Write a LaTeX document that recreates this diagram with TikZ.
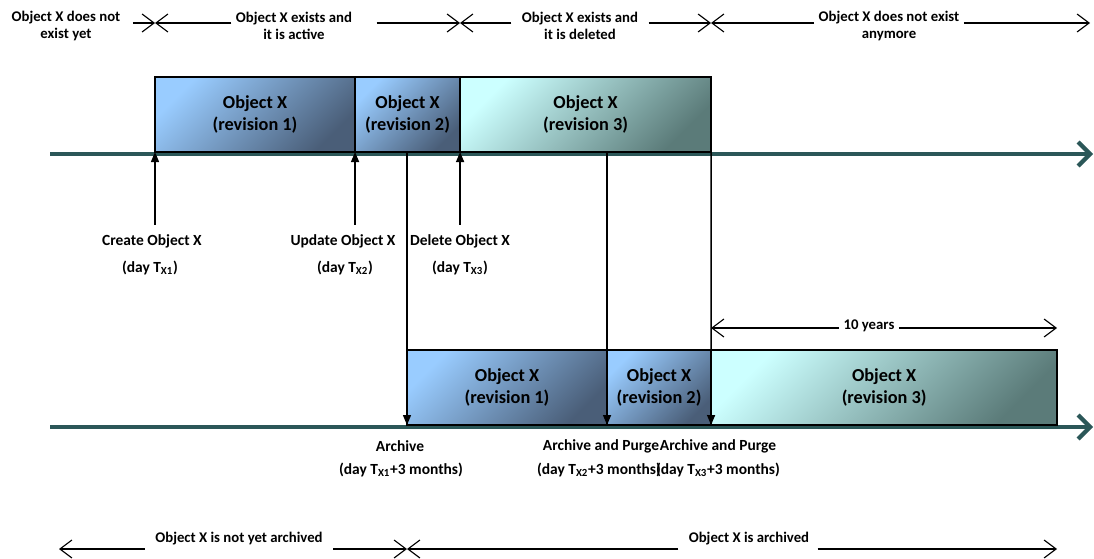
\documentclass[tikz,border=0pt]{standalone}
\usepackage{fontspec}
\setmainfont{Carlito}
\usetikzlibrary{positioning,arrows.meta}

\definecolor{axisteal}{HTML}{2B5758}
\definecolor{revlight}{HTML}{99CCFF}
\definecolor{revdark}{HTML}{4A5E78}
\definecolor{dellight}{HTML}{CCFFFF}
\definecolor{deldark}{HTML}{5B7B79}

\tikzset{
	revbox/.style={draw=black, line width=1pt, minimum height=1.875cm, inner sep=0pt, outer sep=0pt, align=center,
		font=\fontsize{13}{16}\selectfont\bfseries, top color=revlight, bottom color=revdark, shading angle=45},
	delbox/.style={revbox, top color=dellight, bottom color=deldark, shading angle=45},
	timeaxis/.style={line width=3pt, draw=axisteal, -{Straight Barb[length=3mm,width=6mm]}},
	phase/.style={font=\fontsize{10.5}{12}\selectfont\bfseries, align=center, inner xsep=3pt},
	evlabel/.style={font=\fontsize{11}{13}\selectfont\bfseries, inner sep=1pt},
	spanline/.style={line width=0.8pt, -{Straight Barb[length=3mm,width=4.5mm]}},
	evarrow/.style={line width=1pt, -{Triangle[length=2.5mm,width=2mm]}}
}

\begin{document}
\begin{tikzpicture}[x=0.025cm,y=-0.025cm]
	\useasboundingbox (0,0) rectangle (1094,559);

	\coordinate (topstart)	at (50,154);
	\coordinate (topend)	at (1093,154);
	\coordinate (botstart)	at (50,427);
	\coordinate (botend)	at (1093,427);
	\draw[timeaxis] (topstart) -- (topend);
	\draw[timeaxis] (botstart) -- (botend);

	\node[revbox, minimum width=5cm, anchor=south west]	(top1) at (155,152)	{Object X\\(revision 1)};
	\node[revbox, minimum width=2.625cm, right=0pt of top1]	(top2)	{Object X\\(revision 2)};
	\node[delbox, minimum width=6.275cm, right=0pt of top2]	(top3)	{Object X\\(revision 3)};

	\node[revbox, minimum width=5cm, anchor=south west]	(bot1) at (407,425)	{Object X\\(revision 1)};
	\node[revbox, minimum width=2.6cm, right=0pt of bot1]	(bot2)	{Object X\\(revision 2)};
	\node[delbox, minimum width=8.65cm, right=0pt of bot2]	(bot3)	{Object X\\(revision 3)};

	\coordinate (p1) at (155,23);
	\coordinate (p2) at (460,23);
	\coordinate (p3) at (711,23);
	\coordinate (p4) at (1090,23);
	\node[phase] (notyet)	at (66,26)	{Object X does not\\exist yet};
	\node[phase] (active)	at (294,26)	{Object X exists and\\it is active};
	\node[phase] (deleted)	at (580,26)	{Object X exists and\\it is deleted};
	\node[phase] (gone)		at (889,26)	{Object X does not exist\\anymore};
	\draw[spanline, shorten <=2mm]	(notyet.east |- p1) -- (p1);
	\draw[spanline]					(active.west |- p1) -- (p1);
	\draw[spanline, shorten <=5mm]	(active.east |- p2) -- (p2);
	\draw[spanline, shorten <=1.5mm]	(deleted.west |- p2) -- (p2);
	\draw[spanline, shorten <=1.5mm]	(deleted.east |- p3) -- (p3);
	\draw[spanline]					(gone.west |- p3) -- (p3);
	\draw[spanline]					(gone.east |- p4) -- (p4);

	\node[evlabel] (create)		at (152,241) {Create Object X};
	\node[evlabel] (createday)	at (150,268) {(day T\textsubscript{X1})};
	\node[evlabel] (update)		at (343,241) {Update Object X};
	\node[evlabel] (updateday)	at (345,268) {(day T\textsubscript{X2})};
	\node[evlabel] (delete)		at (460,241) {Delete Object X};
	\node[evlabel] (deleteday)	at (460,268) {(day T\textsubscript{X3})};
	\draw[evarrow, shorten <=2mm] (create.north -| top1.south west) -- (top1.south west);
	\draw[evarrow, shorten <=2mm] (update.north -| top2.south west) -- (top2.south west);
	\draw[evarrow, shorten <=2mm] (delete.north -| top3.south west) -- (top3.south west);

	\draw[evarrow] (bot1.south west |- top1.south) -- (bot1.south west);
	\draw[evarrow] (bot2.south west |- top1.south) -- (bot2.south west);
	\draw[evarrow] (top3.south east) -- (bot3.south west);

	\node[evlabel] (archive)		at (400,446) {Archive};
	\node[evlabel] (archiveday)		at (401,470) {(day T\textsubscript{X1}+3 months)};
	\node[evlabel] (purge2)			at (601,446) {Archive and Purge};
	\node[evlabel] (purge2day)		at (599,470) {(day T\textsubscript{X2}+3 months)};
	\node[evlabel] (purge3)			at (718,446) {Archive and Purge};
	\node[evlabel] (purge3day)		at (718,470) {(day T\textsubscript{X3}+3 months)};

	\coordinate (tenl) at (711,328);
	\coordinate (tenr) at (1057,328);
	\node[phase] (tenyears) at (869,326) {10 years};
	\draw[spanline] (tenyears.west |- tenl) -- (tenl);
	\draw[spanline] (tenyears.east |- tenr) -- (tenr);

	\coordinate (a0) at (59,549);
	\coordinate (a1) at (407,549);
	\coordinate (a2) at (1057,549);
	\node[phase] (notarch)	at (239,539) {Object X is not yet archived};
	\node[phase] (arch)		at (749,539) {Object X is archived};
	\draw[spanline, shorten <=1.5mm] (notarch.west |- a0) -- (a0);
	\draw[spanline, shorten <=1.5mm] (notarch.east |- a1) -- (a1);
	\draw[spanline, shorten <=1.5mm] (arch.west |- a1) -- (a1);
	\draw[spanline, shorten <=1mm] (arch.east |- a2) -- (a2);
\end{tikzpicture}
\end{document}
